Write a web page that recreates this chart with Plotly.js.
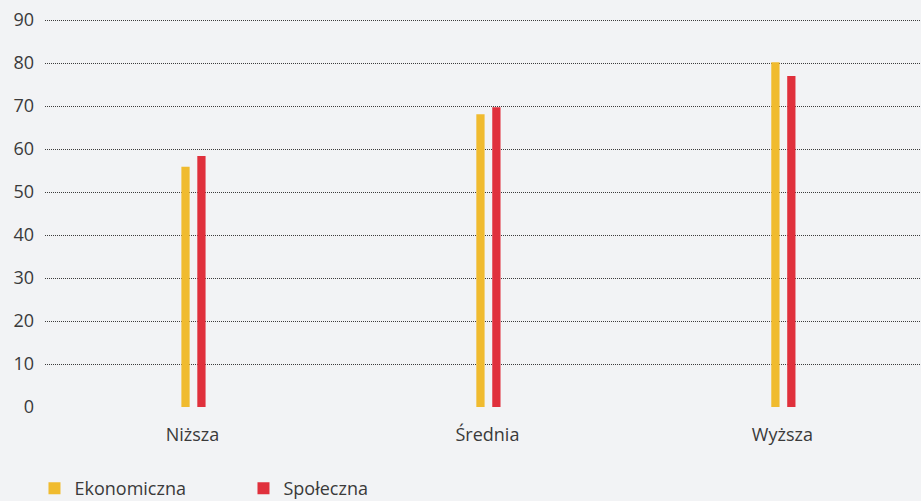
<!DOCTYPE html>
<html>
<head>
<meta charset="utf-8">
<script src="https://cdn.plot.ly/plotly-3.0.1.min.js"></script>
<style>
  html, body { margin: 0; padding: 0; background: #f2f3f5; }
  #chart { width: 921px; height: 501px; }
</style>
</head>
<body>
<div id="chart"></div>
<script>
const categories = ["Niższa", "Średnia", "Wyższa"];
const seriesNames = ["Ekonomiczna", "Społeczna"];
const ekonomiczna = [55.9, 68.1, 80.2];
const spoleczna = [58.4, 69.7, 77.0];
const yTicks = [0, 10, 20, 30, 40, 50, 60, 70, 80, 90];

const colors = ["#f0bb2f", "#e0303c"];
const barWidth = 0.028;

const traces = [
  {
    type: "bar", name: seriesNames[0], x: categories, y: ekonomiczna,
    width: barWidth, offset: -0.0376,
    marker: { color: colors[0] }, hoverinfo: "y"
  },
  {
    type: "bar", name: seriesNames[1], x: categories, y: spoleczna,
    width: barWidth, offset: 0.0164,
    marker: { color: colors[1] }, hoverinfo: "y"
  }
];

const fontFam = "Open Sans, sans-serif";

const layout = {
  width: 921, height: 501,
  paper_bgcolor: "#f2f3f5", plot_bgcolor: "#f2f3f5",
  margin: { l: 45, r: 0, t: 16, b: 94, autoexpand: false },
  barmode: "overlay",
  showlegend: true,
  legend: {
    orientation: "h", x: -0.012, xanchor: "left",
    yref: "container", y: 0.025, yanchor: "middle",
    font: { family: fontFam, size: 18, color: "#3a3a3a" },
    entrywidth: 164, itemwidth: 30, bgcolor: "rgba(0,0,0,0)"
  },
  xaxis: {
    type: "category", range: [-0.5, 2.47],
    showgrid: false, zeroline: false, showline: false, ticks: "",
    tickfont: { family: fontFam, size: 18, color: "#3a3a3a" },
    ticklabelstandoff: 15
  },
  yaxis: {
    range: [0, 90.93], tickvals: yTicks, ticktext: yTicks.map(String),
    showgrid: true, gridcolor: "#3c3c3c", griddash: "1px,1px", gridwidth: 1,
    zeroline: false, showline: false, ticks: "",
    tickfont: { family: fontFam, size: 18, color: "#3a3a3a" },
    ticklabelstandoff: 10
  }
};

Plotly.newPlot("chart", traces, layout, { displayModeBar: false, staticPlot: true });
</script>
</body>
</html>
